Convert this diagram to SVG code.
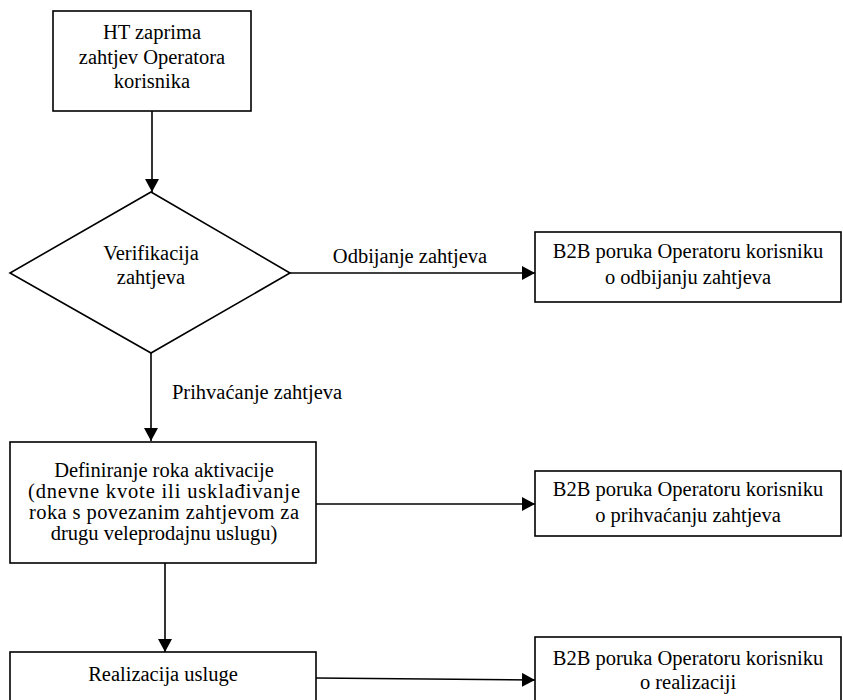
<svg xmlns="http://www.w3.org/2000/svg" width="843" height="700" viewBox="0 0 843 700">
<style>
.s{fill:#fff;stroke:#000;stroke-width:1.6}
.t{font-family:"Liberation Serif","Times New Roman",serif;font-size:20.5px;fill:#000;text-anchor:middle}
.c{stroke:#000;stroke-width:1.6;fill:none;marker-end:url(#ah)}
</style>
<defs>
<marker id="ah" markerWidth="13" markerHeight="14" refX="13" refY="7" orient="auto" markerUnits="userSpaceOnUse">
<path d="M0,0 L13,7 L0,14 Z" fill="#000"/>
</marker>
</defs>
<rect width="843" height="700" fill="#fff"/>
<g id="connectors">
<line class="c" x1="152" y1="111" x2="152" y2="192"/>
<line class="c" x1="290" y1="273" x2="535" y2="273"/>
<line class="c" x1="151" y1="353" x2="151" y2="441"/>
<line class="c" x1="316" y1="504" x2="535" y2="504"/>
<line class="c" x1="165" y1="563" x2="165" y2="652"/>
<line class="c" x1="316" y1="678" x2="535" y2="680"/>
<text class="t" x="410" y="263">Odbijanje zahtjeva</text>
<text class="t" x="257" y="399">Prihvaćanje zahtjeva</text>
</g>
<g id="n1">
<rect class="s" x="53" y="11" width="198" height="100"/>
<text class="t" x="152" y="39">HT zaprima</text>
<text class="t" x="152" y="64">zahtjev Operatora</text>
<text class="t" x="152" y="88">korisnika</text>
</g>
<g id="n2">
<polygon class="s" points="151,192 290,273 151,353 10,273"/>
<text class="t" x="151" y="260">Verifikacija</text>
<text class="t" x="151" y="284">zahtjeva</text>
</g>
<g id="n3">
<rect class="s" x="535" y="232" width="306" height="70"/>
<text class="t" x="688" y="258">B2B poruka Operatoru korisniku</text>
<text class="t" x="688" y="284">o odbijanju zahtjeva</text>
</g>
<g id="n4">
<rect class="s" x="10" y="442" width="306" height="121"/>
<text class="t" x="164" y="477">Definiranje roka aktivacije</text>
<text class="t" x="164" y="498" textLength="272" lengthAdjust="spacing">(dnevne kvote ili usklađivanje</text>
<text class="t" x="164" y="519" textLength="270" lengthAdjust="spacing">roka s povezanim zahtjevom za</text>
<text class="t" x="164" y="540">drugu veleprodajnu uslugu)</text>
</g>
<g id="n5">
<rect class="s" x="535" y="471" width="306" height="65"/>
<text class="t" x="688" y="496">B2B poruka Operatoru korisniku</text>
<text class="t" x="688" y="522">o prihvaćanju zahtjeva</text>
</g>
<g id="n6">
<rect class="s" x="10" y="652" width="306" height="60"/>
<text class="t" x="163" y="681">Realizacija usluge</text>
</g>
<g id="n7">
<rect class="s" x="535" y="637" width="306" height="70"/>
<text class="t" x="688" y="665">B2B poruka Operatoru korisniku</text>
<text class="t" x="688" y="689">o realizaciji</text>
</g>
</svg>
